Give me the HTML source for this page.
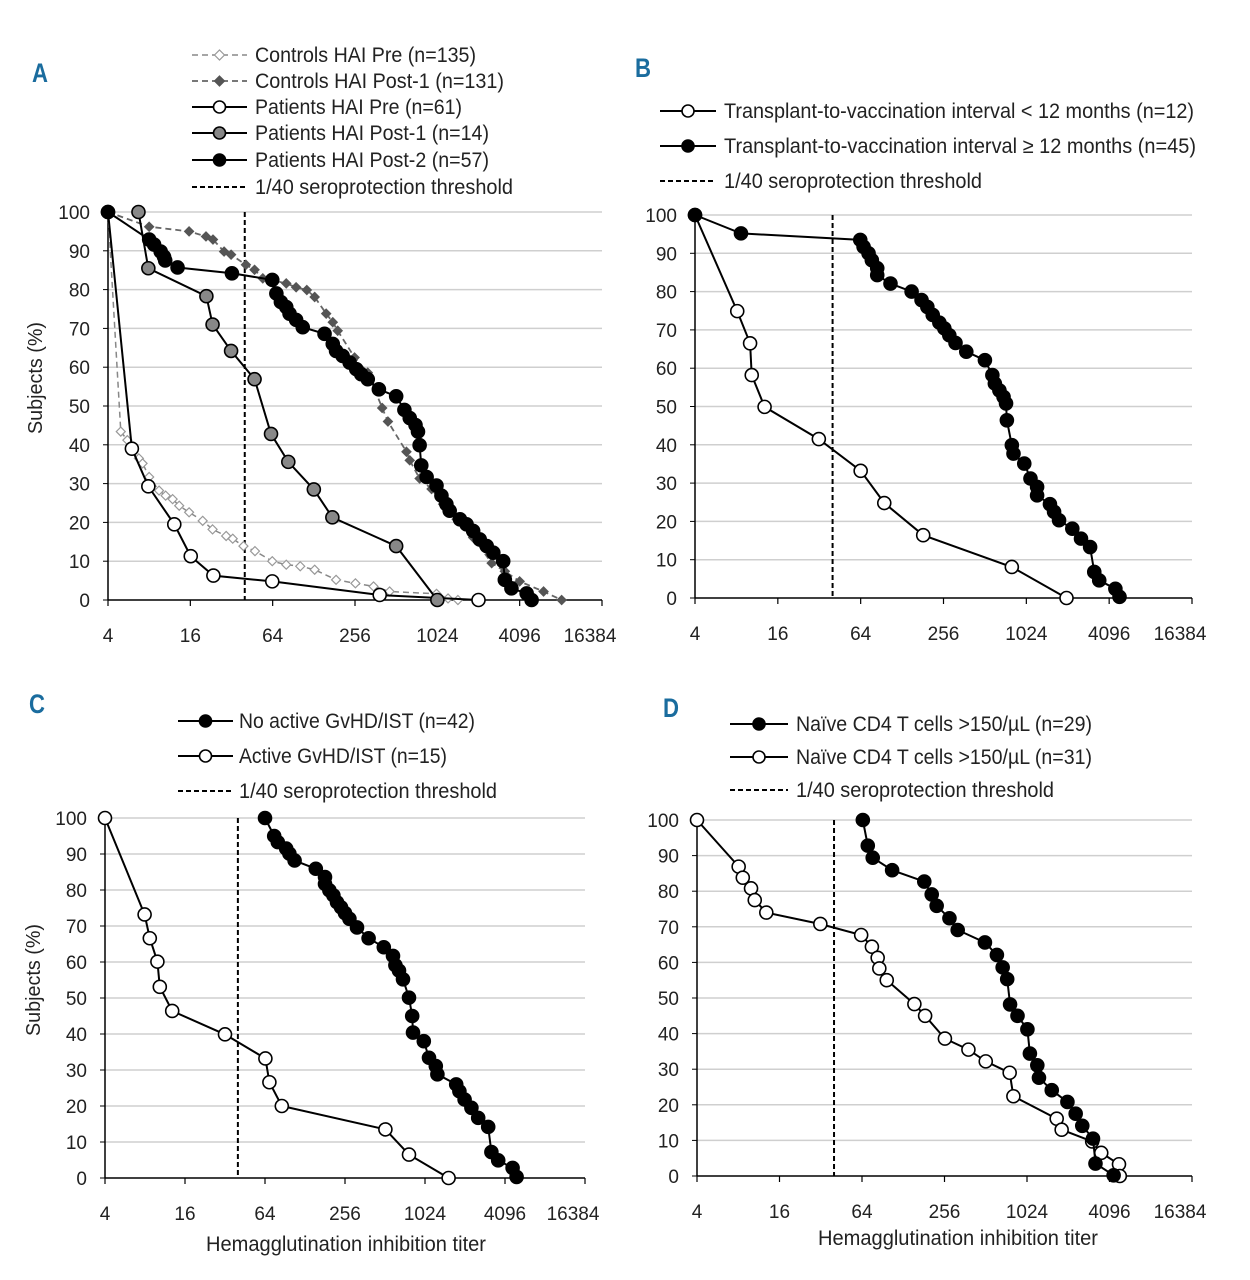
<!DOCTYPE html>
<html><head><meta charset="utf-8"><style>
body{margin:0;background:#fff;}
svg{display:block;font-family:"Liberation Sans",sans-serif;}
text{fill:#222;}
</style></head><body>
<svg id="fig" width="1250" height="1280" viewBox="0 0 1250 1280" xmlns="http://www.w3.org/2000/svg"></svg>
<script>
// ---- data (x = log2 of HAI titer, y = % subjects) ----
const xTickLabels = ["4","16","64","256","1024","4096","16384"];
const xTickLog2 = [2,4,6,8,10,12,14];
const yTicks = [0,10,20,30,40,50,60,70,80,90,100];
const thresholdTiter = 40;

const aCtrlPreX = [2,2.31,2.47,2.75,2.84,3,3.24,3.4,3.57,3.73,3.97,4.3,4.54,4.87,5.03,5.29,5.57,5.99,6.33,6.67,7.02,7.54,8.01,8.45,8.84,9.98,10.26,10.5];
const aCtrlPreY = [100,43.4,41.2,36.5,35.2,31.7,28.2,26.9,26,24.3,22.6,20.4,18.2,16.5,15.8,13.9,12.6,10,9.1,8.7,7.8,5.2,4.3,3.5,2.2,1.6,0.4,0];
const aCtrlPostX = [2,3,3.97,4.38,4.55,4.82,4.99,5.35,5.56,5.76,6.33,6.57,6.83,7.02,7.3,7.46,7.58,7.99,8.31,8.66,8.8,9.25,9.33,9.57,9.86,10.14,10.47,10.87,11.32,11.64,12,12.58,13.02];
const aCtrlPostY = [100,96.2,95,93.7,92.9,89.8,89,86.4,85.1,82.9,81.6,80.6,79.9,78.1,73.8,71.6,69.4,62.5,58.6,49.5,46,38.2,36,31.3,28.6,24.7,20.8,16.1,9.5,7.4,4.8,2.2,0];
const aPatPreX = [2,2.58,2.98,3.61,4.01,4.56,5.99,8.6,11];
const aPatPreY = [100,39,29.3,19.5,11.3,6.3,4.8,1.3,0];
const aPatPost1X = [2.74,2.98,4.39,4.54,4.99,5.56,5.96,6.38,7,7.45,9,10];
const aPatPost1Y = [100,85.5,78.3,71,64.2,56.9,42.8,35.6,28.5,21.3,13.9,0];
const aPatPost2X = [2,3,3.12,3.28,3.36,3.39,3.69,5.01,5.99,6.09,6.2,6.33,6.41,6.57,6.73,7.26,7.46,7.54,7.7,7.87,8.03,8.15,8.31,8.58,9,9.2,9.33,9.47,9.53,9.57,9.61,9.74,9.98,10.1,10.22,10.3,10.55,10.71,10.87,11.03,11.2,11.36,11.6,11.64,11.8,12.17,12.29];
const aPatPost2Y = [100,92.9,91.6,89.8,88.5,87.5,85.7,84.2,82.5,79,76.8,75.5,73.8,72.2,70.3,68.6,66,64.2,62.9,61.2,59.5,58.2,56.9,54.3,52.5,49,46.9,45.1,43.4,39.9,34.7,31.7,29.5,26.9,24.7,23,20.8,19.5,17.8,15.6,13.9,12.2,10,5.2,3,1.7,0];

const bLtX = [2,3.02,3.33,3.37,3.68,4.99,6,6.57,7.51,9.65,10.97];
const bLtY = [100,74.9,66.5,58.2,49.9,41.5,33.2,24.8,16.4,8.1,0];
const bGeX = [2,3.11,5.99,6.07,6.19,6.27,6.4,6.4,6.72,7.23,7.47,7.61,7.74,7.9,8.02,8.14,8.29,8.55,9,9.18,9.24,9.35,9.45,9.51,9.53,9.65,9.69,9.95,10.1,10.26,10.26,10.57,10.67,10.79,11.11,11.32,11.54,11.64,11.76,12.15,12.25];
const bGeY = [100,95.2,93.5,91.7,90,88.2,86.1,84.3,82.1,80,77.8,76,73.9,71.9,70.4,68.6,66.6,64.3,62.1,58.2,56,54.2,52.5,50.8,46.4,39.9,37.7,35.1,31.2,29,26.8,24.5,22.5,20.3,18.1,15.5,13.3,6.8,4.6,2.4,0.3];

const cActX = [2,2.99,3.12,3.31,3.37,3.68,5,6.01,6.11,6.42,9.01,9.6,10.59];
const cActY = [100,73.2,66.6,60.1,53.1,46.4,39.9,33.2,26.6,20,13.5,6.5,0];
const cNoX = [6,6.23,6.32,6.53,6.61,6.74,7.27,7.5,7.5,7.61,7.71,7.8,7.9,8,8.11,8.3,8.59,8.97,9.2,9.26,9.35,9.45,9.6,9.68,9.7,9.97,10.1,10.27,10.31,10.78,10.86,10.99,11.16,11.33,11.58,11.66,11.83,12.19,12.29];
const cNoY = [100,95,93.3,91.5,90.1,88.2,85.9,83.6,81.7,79.9,78.5,76.6,75.2,73.6,72,69.6,66.6,64.1,61.7,59.1,57.6,55.2,50.1,45,40.4,38,33.4,31.1,28.8,26,24.1,21.8,19.5,16.7,14.2,7.2,4.9,2.8,0.3];

const dLowX = [2,3.01,3.11,3.31,3.4,3.68,4.99,5.98,6.24,6.38,6.42,6.6,7.27,7.53,8.01,8.58,9,9.58,9.67,10.72,10.84,11.58,11.8,12.23,12.25];
const dLowY = [100,86.9,83.8,80.8,77.5,74,70.8,67.7,64.4,61.3,58.3,55,48.3,45,38.6,35.5,32.2,29,22.4,16.1,13,9.7,6.5,3.3,0];
const dHighX = [6.02,6.14,6.26,6.73,7.51,7.69,7.81,8.12,8.32,8.98,9.27,9.41,9.52,9.59,9.77,10.01,10.07,10.25,10.29,10.6,10.98,11.18,11.34,11.6,11.66,12.1];
const dHighY = [100,92.8,89.4,85.9,82.7,79.1,75.9,72.4,69.1,65.6,62.1,58.6,55.3,48.2,45,41.2,34.4,31.1,27.6,24.1,20.8,17.5,14.1,10.5,3.5,0.2];

const NS='http://www.w3.org/2000/svg';
const svg=document.getElementById('fig');
function mk(tag,attrs,parent){const e=document.createElementNS(NS,tag);for(const k in attrs)e.setAttribute(k,attrs[k]);(parent||svg).appendChild(e);return e;}
function txt(s,attrs,parent){const e=mk('text',attrs,parent);e.textContent=s;return e;}

function panel(P){
  const g=mk('g',{});
  
  
  const sx=v=>P.x0+(v-2)/12*(P.x1-P.x0);
  const sy=v=>P.y0-(v/100)*(P.y0-P.y100);
  // grid
  yTicks.forEach(t=>{
    if(t>0){const l=mk('line',{x1:P.x0,x2:P.x1,y1:sy(t),y2:sy(t),stroke:'#cfcfcf','stroke-width':1.5},g);
      
      }
    mk('line',{x1:P.x0-5,x2:P.x0,y1:sy(t),y2:sy(t),stroke:'#000','stroke-width':1},g);
    const tl=txt(String(t),{x:P.x0-18,y:sy(t)+7,'text-anchor':'end','font-size':19},g);
    
    
  });
  const ya=mk('line',{x1:P.x0,x2:P.x0,y1:P.y100,y2:P.y0,stroke:'#000','stroke-width':1.5},g);
  
  
  const xa=mk('line',{x1:P.x0,x2:P.x1,y1:P.y0,y2:P.y0,stroke:'#000','stroke-width':1.5},g);
  
  
  xTickLog2.forEach((t,i)=>{
    mk('line',{x1:sx(t),x2:sx(t),y1:P.y0,y2:P.y0+6,stroke:'#000','stroke-width':1.2},g);
    const tl=txt(xTickLabels[i],{x:sx(t)+(i==6?-12:0),y:P.y0+42,'text-anchor':'middle','font-size':19},g);
    
    
  });
  // threshold
  const tx=sx(Math.log2(thresholdTiter));
  const th=mk('line',{x1:tx,x2:tx,y1:P.y100,y2:P.y0,stroke:'#000','stroke-width':2,'stroke-dasharray':'5,3'},g);
  
  
  // series
  P.series.forEach(s=>{
    const sg=mk('g',{},g);
    
    
    const pts=s.x.map((v,i)=>sx(v).toFixed(1)+','+sy(s.y[i]).toFixed(1)).join(' ');
    mk('polyline',{points:pts,fill:'none',stroke:s.lc,'stroke-width':s.lw,'stroke-dasharray':s.dash||'none'},sg);
    s.x.forEach((v,i)=>{
      const cx=sx(v),cy=sy(s.y[i]);
      let m;
      if(s.shape==='diamond'){const r=s.r;
        m=mk('polygon',{points:`${cx},${cy-r} ${cx+r},${cy} ${cx},${cy+r} ${cx-r},${cy}`,fill:s.fill,stroke:s.stroke,'stroke-width':1.2},sg);}
      else m=mk('circle',{cx:cx,cy:cy,r:s.r,fill:s.fill,stroke:s.stroke,'stroke-width':1.6},sg);
      
      
    });
  });
  // legend
  const lg=mk('g',{},g);
  
  
  P.legend.forEach((L,i)=>{
    const y=P.leg.y[i];
    const eg=mk('g',{},lg);
    
    
    mk('line',{x1:P.leg.lx0,x2:P.leg.lx1,y1:y,y2:y,stroke:L.lc,'stroke-width':L.lw,'stroke-dasharray':L.dash||'none'},eg);
    const mx=(P.leg.lx0+P.leg.lx1)/2;
    if(L.shape==='circle')mk('circle',{cx:mx,cy:y,r:6,fill:L.fill,stroke:'#000','stroke-width':1.6},eg);
    if(L.shape==='diamond')mk('polygon',{points:`${mx},${y-5} ${mx+5},${y} ${mx},${y+5} ${mx-5},${y}`,fill:L.fill,stroke:L.stroke,'stroke-width':1.2},eg);
    txt(L.text,{x:P.leg.tx,y:y+7,'font-size':21,textLength:L.w,lengthAdjust:'spacingAndGlyphs'},eg);
  });
  const lab=txt(P.id,{x:P.lab[0],y:P.lab[1],'font-size':27,'font-weight':'bold','text-anchor':'middle',textLength:16,lengthAdjust:'spacingAndGlyphs'},g);
  lab.setAttribute('fill','#1a6c9e');lab.style.fill='#1a6c9e';
  
  
  if(P.ytitle){const t=txt('Subjects (%)',{x:0,y:0,'font-size':20,'text-anchor':'middle',transform:`translate(${P.ytitle[0]},${P.ytitle[1]}) rotate(-90)`,textLength:112,lengthAdjust:'spacingAndGlyphs'},g);
    
    }
  if(P.xtitle){const t=txt('Hemagglutination inhibition titer',{x:P.xtitle[0],y:P.xtitle[1],'font-size':21,'text-anchor':'middle',textLength:280,lengthAdjust:'spacingAndGlyphs'},g);
    
    }
}
const W={fill:'#fff',stroke:'#000',lc:'#000',lw:2,r:6.5,shape:'circle'};
const K={fill:'#000',stroke:'#000',lc:'#000',lw:2,r:6.5,shape:'circle'};
const thrLeg={text:'1/40 seroprotection threshold',lc:'#000',lw:2,dash:'5,3',w:258};

panel({id:'A',x0:108,x1:602,y0:600,y100:212,lab:[40,82],ytitle:[42,378],
  leg:{y:[55,81,107,133,160,187],lx0:192,lx1:247,tx:255},
  series:[
    {name:'controls-pre-series',x:aCtrlPreX,y:aCtrlPreY,fill:'#fff',stroke:'#999',lc:'#888',lw:1.5,dash:'6,4',r:4.5,shape:'diamond'},
    {name:'controls-post1-series',x:aCtrlPostX,y:aCtrlPostY,fill:'#555',stroke:'#555',lc:'#666',lw:1.8,dash:'6,4',r:4.5,shape:'diamond'},
    Object.assign({name:'patients-pre-series',x:aPatPreX,y:aPatPreY},W),
    Object.assign({name:'patients-post1-series',x:aPatPost1X,y:aPatPost1Y},W,{fill:'#888'}),
    Object.assign({name:'patients-post2-series',x:aPatPost2X,y:aPatPost2Y},K)],
  legend:[
    {text:'Controls HAI Pre (n=135)',lc:'#888',lw:1.5,dash:'6,4',shape:'diamond',fill:'#fff',stroke:'#999',w:221},
    {text:'Controls HAI Post-1 (n=131)',lc:'#666',lw:1.8,dash:'6,4',shape:'diamond',fill:'#555',stroke:'#555',w:249},
    {text:'Patients HAI Pre (n=61)',lc:'#000',lw:2,shape:'circle',fill:'#fff',w:207},
    {text:'Patients HAI Post-1 (n=14)',lc:'#000',lw:2,shape:'circle',fill:'#888',w:234},
    {text:'Patients HAI Post-2 (n=57)',lc:'#000',lw:2,shape:'circle',fill:'#000',w:234},
    thrLeg]});

panel({id:'B',x0:695,x1:1192,y0:598,y100:215,lab:[643,77],
  leg:{y:[111,146,181],lx0:660,lx1:716,tx:724},
  series:[Object.assign({name:'interval-lt-12-series',x:bLtX,y:bLtY},W),
          Object.assign({name:'interval-ge-12-series',x:bGeX,y:bGeY},K)],
  legend:[{text:'Transplant-to-vaccination interval < 12 months (n=12)',lc:'#000',lw:2,shape:'circle',fill:'#fff',w:470},
          {text:'Transplant-to-vaccination interval \u2265 12 months (n=45)',lc:'#000',lw:2,shape:'circle',fill:'#000',w:472},
          thrLeg]});

panel({id:'C',x0:105,x1:585,y0:1178,y100:818,lab:[37,713],ytitle:[40,980],xtitle:[346,1251],
  leg:{y:[721,756,791],lx0:178,lx1:233,tx:239},
  series:[Object.assign({name:'active-gvhd-series',x:cActX,y:cActY},W),
          Object.assign({name:'no-active-gvhd-series',x:cNoX,y:cNoY},K)],
  legend:[{text:'No active GvHD/IST (n=42)',lc:'#000',lw:2,shape:'circle',fill:'#000',w:236},
          {text:'Active GvHD/IST (n=15)',lc:'#000',lw:2,shape:'circle',fill:'#fff',w:208},
          thrLeg]});

panel({id:'D',x0:697,x1:1192,y0:1176,y100:820,lab:[671,717],xtitle:[958,1245],
  leg:{y:[724,757,790],lx0:730,lx1:788,tx:796},
  series:[Object.assign({name:'naive-cd4-low-series',x:dLowX,y:dLowY},W),
          Object.assign({name:'naive-cd4-high-series',x:dHighX,y:dHighY},K)],
  legend:[{text:'Na\u00efve CD4 T cells >150/\u00b5L (n=29)',lc:'#000',lw:2,shape:'circle',fill:'#000',w:296},
          {text:'Na\u00efve CD4 T cells >150/\u00b5L (n=31)',lc:'#000',lw:2,shape:'circle',fill:'#fff',w:296},
          thrLeg]});
</script>
</body></html>
